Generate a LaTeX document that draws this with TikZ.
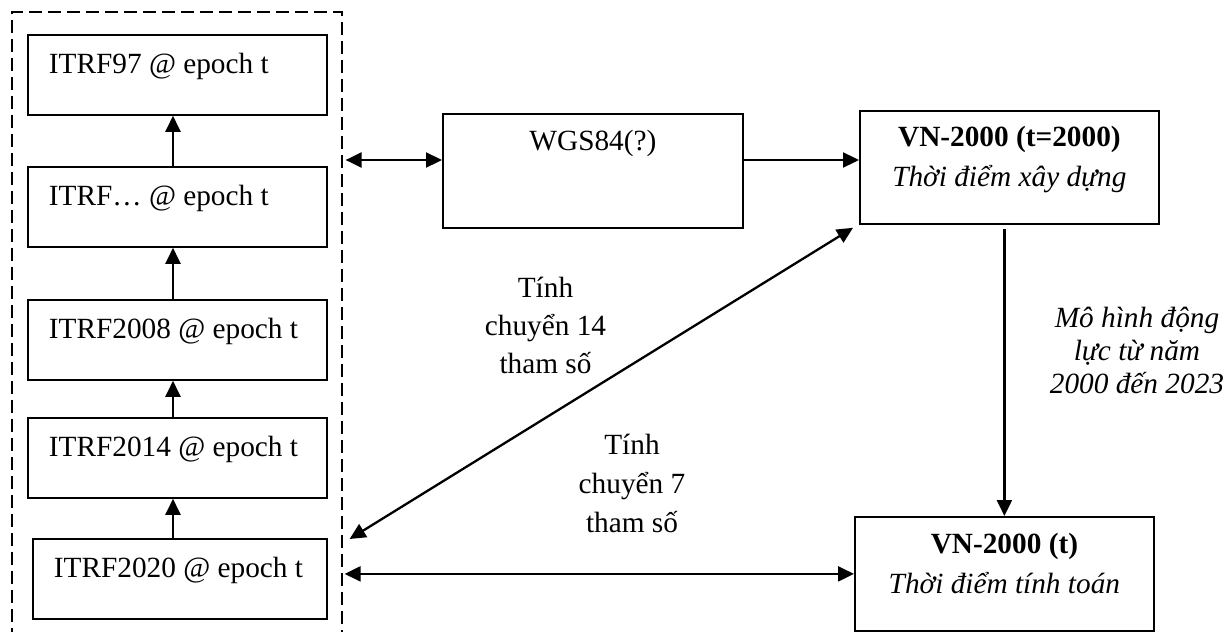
\documentclass[tikz,border=0pt]{standalone}
\usepackage{fontspec}
\setmainfont{Liberation Serif}
\usetikzlibrary{arrows.meta,calc}

\tikzset{
  txt/.style={font=\fontsize{29.3pt}{40pt}\selectfont},
  box/.style={txt, draw, line width=1.8pt, inner sep=0pt, anchor=north west},
  itrf/.style={box, inner xsep=21pt, align=flush left, text height=39pt, text depth=41pt},
  vnbox/.style={box, text width=299pt, align=flush center},
  frame/.style={draw, line width=1.6pt, dash pattern=on 13pt off 6pt,
                inner sep=0pt, anchor=north west},
  tip/.tip={Triangle[length=16pt,width=15pt]},
  arr/.style={line width=2.3pt, -tip},
  darr/.style={line width=2.3pt, tip-tip},
  lbl/.style={txt, text width=240pt, align=flush center, anchor=base}
}

\begin{document}
\begin{tikzpicture}[x=1pt,y=-1pt]
  \useasboundingbox (0,0) rectangle (1227,632);
  \clip (0,0) rectangle (1227,632);

  % dashed frame holding the ITRF realisations (open at the bottom)
  \node[frame, minimum width=330pt, minimum height=700pt] (frame) at (11,11) {};

  % ITRF stack
  \node[itrf, text width=257pt] (b1) at (27,34)  {\mbox{ITRF97 @ epoch t}};
  \node[itrf, text width=257pt] (b2) at (27,166) {\mbox{ITRF… @ epoch t}};
  \node[itrf, text width=257pt] (b3) at (27,299) {\mbox{ITRF2008 @ epoch t}};
  \node[itrf, text width=257pt] (b4) at (27,417) {\mbox{ITRF2014 @ epoch t}};
  \node[itrf, text width=252pt] (b5) at (32,538) {\mbox{ITRF2020 @ epoch t}};

  % WGS84 and the two VN-2000 frames
  \node[box, text width=300pt, align=flush center, text height=37pt, text depth=77pt]
    (wgs) at (442,113) {WGS84(?)};
  \node[vnbox, text height=36pt, text depth=77pt] (vns) at (859,110)
    {\textbf{VN-2000 (t=2000)}\\\textit{Thời điểm xây dựng}};
  \node[vnbox, text height=37pt, text depth=77pt] (vnt) at (854,516)
    {\textbf{VN-2000 (t)}\\\textit{Thời điểm tính toán}};

  % arrows inside the ITRF stack
  \coordinate (ax) at (173,0);
  \draw[arr] (ax |- b2.north) -- (ax |- b1.south);
  \draw[arr] (ax |- b3.north) -- (ax |- b2.south);
  \draw[arr] (ax |- b4.north) -- (ax |- b3.south);
  \draw[arr] (ax |- b5.north) -- (ax |- b4.south);

  % links between the frames
  \coordinate (r1) at (0,160);
  \coordinate (d1) at (0,539);
  \draw[darr] ($(frame.east |- r1)+(3,0)$) -- (wgs.west |- r1);
  \draw[arr] (wgs.east |- r1) -- (vns.west |- r1);
  \draw[darr] ($(frame.east |- d1)+(7,0)$) -- ($(vns.south west)+(-6,3)$);
  \draw[darr] ($(frame.east |- vnt.west)+(2,0)$) -- (vnt.west);
  \draw[arr] ($(vnt.north |- vns.south)+(0,4)$) -- (vnt.north);

  % labels
  \node[lbl, font=\fontsize{29.3pt}{38pt}\selectfont] (l14) at (545.5,297)
    {Tính\\chuyển 14\\tham số};
  \node[lbl, font=\fontsize{29.3pt}{39pt}\selectfont] (l7) at (632,454)
    {Tính\\chuyển 7\\tham số};
  \node[lbl, font=\fontsize{29.3pt}{33pt}\selectfont\itshape] (ldyn) at (1137,327)
    {Mô hình động\\lực từ năm\\2000 đến 2023};
\end{tikzpicture}
\end{document}
